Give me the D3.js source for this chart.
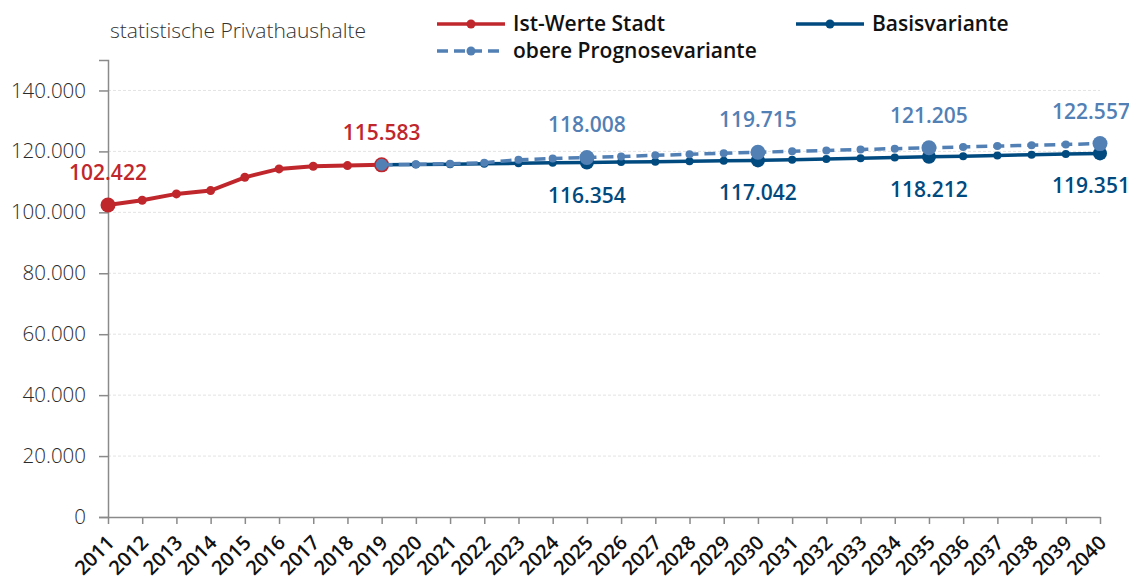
<!DOCTYPE html>
<html>
<head>
<meta charset="utf-8">
<script src="https://cdnjs.cloudflare.com/ajax/libs/d3/7.8.5/d3.min.js"></script>
<style>
  body { margin: 0; background: #fff; }
  svg { font-family: "Open Sans", sans-serif; display: block; }
</style>
</head>
<body>
<div id="chart"></div>
<script>
var years = d3.range(2011, 2041);
var istYears = [2011, 2012, 2013, 2014, 2015, 2016, 2017, 2018, 2019];
var istValues = [102422, 103950, 106050, 107130, 111500, 114260, 115120, 115350, 115583];
var progYears = [2019, 2020, 2021, 2022, 2023, 2024, 2025, 2026, 2027, 2028, 2029, 2030,
                 2031, 2032, 2033, 2034, 2035, 2036, 2037, 2038, 2039, 2040];
var basisValues = [115583, 115700, 115800, 115950, 116100, 116250, 116354, 116500, 116620, 116760, 116900, 117042,
                   117270, 117500, 117740, 117970, 118212, 118440, 118670, 118900, 119120, 119351];
var obereValues = [115583, 115750, 115950, 116300, 117250, 117700, 118008, 118350, 118700, 119050, 119380, 119715,
                   120020, 120320, 120620, 120910, 121205, 121480, 121750, 122020, 122290, 122557];
var yTicks = [0, 20000, 40000, 60000, 80000, 100000, 120000, 140000];
var istLabelYears = [2011, 2019];
var progLabelYears = [2025, 2030, 2035, 2040];

var width = 1129, height = 580;
var red = '#c0272d', dark = '#004a80', light = '#5280b5';

var svg = d3.select('#chart').append('svg')
    .attr('width', width)
    .attr('height', height);

var x = d3.scalePoint().domain(years).range([108, 1100]);
var y = d3.scaleLinear().domain([0, 150000]).range([517, 60]);
var fmt = d3.formatLocale({decimal: ',', thousands: '.', grouping: [3], currency: ['', '']}).format(',');

// gridlines
svg.append('g').selectAll('line')
    .data(yTicks.slice(1))
    .enter().append('line')
    .attr('x1', 108).attr('x2', 1100)
    .attr('y1', function(d){ return y(d); })
    .attr('y2', function(d){ return y(d); })
    .attr('stroke', '#e3e3e3')
    .attr('stroke-dasharray', '3,2');

// y axis
var yAxis = svg.append('g')
    .attr('transform', 'translate(108,0)')
    .call(d3.axisLeft(y).tickValues(yTicks).tickSize(9).tickPadding(13).tickFormat(fmt));
yAxis.selectAll('text').attr('font-size', 20.5).attr('fill', '#2a2a2a').style('font-family', '"Open Sans", sans-serif').attr('font-weight', 300);
yAxis.selectAll('line, path').attr('stroke', '#8a8a8a').attr('stroke-width', 1.5);

// x axis
var xAxis = svg.append('g')
    .attr('transform', 'translate(0,517)')
    .call(d3.axisBottom(x).tickSize(7).tickSizeOuter(0));
xAxis.selectAll('line, path').attr('stroke', '#8a8a8a').attr('stroke-width', 1.5);
xAxis.selectAll('text')
    .attr('font-size', 20)
    .attr('font-weight', 600)
    .attr('fill', '#111')
    .style('font-family', '"Open Sans", sans-serif')
    .attr('text-anchor', 'end')
    .attr('y', 0).attr('dy', 0)
    .attr('transform', 'translate(7,27) rotate(-45)');

// title
svg.append('text')
    .attr('x', 110).attr('y', 38)
    .attr('font-size', 21)
    .attr('fill', '#333')
    .attr('font-weight', 300)
    .text('statistische Privathaushalte');

function series(xs, vs){ return xs.map(function(d, i){ return {year: d, value: vs[i]}; }); }
var ist = series(istYears, istValues);
var basis = series(progYears, basisValues);
var obere = series(progYears, obereValues);

var line = d3.line().x(function(d){ return x(d.year); }).y(function(d){ return y(d.value); });

function big(d, list){ return list.indexOf(d.year) >= 0; }

svg.append('path').datum(basis)
    .attr('d', line).attr('fill', 'none')
    .attr('stroke', dark).attr('stroke-width', 3.5);
svg.selectAll('.dotB').data(basis).enter().append('circle')
    .attr('class', 'dotB')
    .attr('cx', function(d){ return x(d.year); })
    .attr('cy', function(d){ return y(d.value); })
    .attr('r', function(d){ return big(d, progLabelYears) ? 7 : 4; })
    .attr('fill', dark);

svg.append('path').datum(ist)
    .attr('d', line).attr('fill', 'none')
    .attr('stroke', red).attr('stroke-width', 4);
svg.selectAll('.dotI').data(ist).enter().append('circle')
    .attr('class', 'dotI')
    .attr('cx', function(d){ return x(d.year); })
    .attr('cy', function(d){ return y(d.value); })
    .attr('r', function(d){ return big(d, istLabelYears) ? 7.5 : 4.5; })
    .attr('fill', red);

svg.append('path').datum(obere)
    .attr('d', line).attr('fill', 'none')
    .attr('stroke', light).attr('stroke-width', 3.5)
    .attr('stroke-dasharray', '11,6');
svg.selectAll('.dotO').data(obere).enter().append('circle')
    .attr('class', 'dotO')
    .attr('cx', function(d){ return x(d.year); })
    .attr('cy', function(d){ return y(d.value); })
    .attr('r', function(d){ return d.year === 2019 ? 6 : (big(d, progLabelYears) ? 7.5 : 4); })
    .attr('fill', light);

// value labels
function labelX(d){ return Math.min(x(d.year), 1091); }
svg.selectAll('.labI').data(ist.filter(function(d){ return big(d, istLabelYears); }))
    .enter().append('text')
    .attr('x', labelX).attr('y', function(d){ return y(d.value) - 25; })
    .attr('text-anchor', 'middle').attr('font-size', 21).attr('font-weight', 600)
    .attr('fill', red).text(function(d){ return fmt(d.value); });
svg.selectAll('.labO').data(obere.filter(function(d){ return big(d, progLabelYears); }))
    .enter().append('text')
    .attr('x', labelX).attr('y', function(d){ return y(d.value) - 25; })
    .attr('text-anchor', 'middle').attr('font-size', 21).attr('font-weight', 600)
    .attr('fill', light).text(function(d){ return fmt(d.value); });
svg.selectAll('.labB').data(basis.filter(function(d){ return big(d, progLabelYears); }))
    .enter().append('text')
    .attr('x', labelX).attr('y', function(d){ return y(d.value) + 40; })
    .attr('text-anchor', 'middle').attr('font-size', 21).attr('font-weight', 600)
    .attr('fill', dark).text(function(d){ return fmt(d.value); });

// legend
var legendItems = [
    {name: 'Ist-Werte Stadt', color: red, dash: null, lx: 437, ly: 24},
    {name: 'Basisvariante', color: dark, dash: null, lx: 796, ly: 24},
    {name: 'obere Prognosevariante', color: light, dash: '11,6', lx: 437, ly: 51}
];
var leg = svg.selectAll('.legend').data(legendItems).enter().append('g')
    .attr('transform', function(d){ return 'translate(' + d.lx + ',' + d.ly + ')'; });
leg.append('line')
    .attr('x1', 0).attr('x2', 68)
    .attr('stroke', function(d){ return d.color; })
    .attr('stroke-width', 3.5)
    .attr('stroke-dasharray', function(d){ return d.dash; });
leg.append('circle').attr('cx', 34).attr('r', 4.5).attr('fill', function(d){ return d.color; });
leg.append('text')
    .attr('x', 76).attr('y', 7)
    .attr('font-size', 21).attr('font-weight', 600).attr('fill', '#111')
    .text(function(d){ return d.name; });
</script>
</body>
</html>
